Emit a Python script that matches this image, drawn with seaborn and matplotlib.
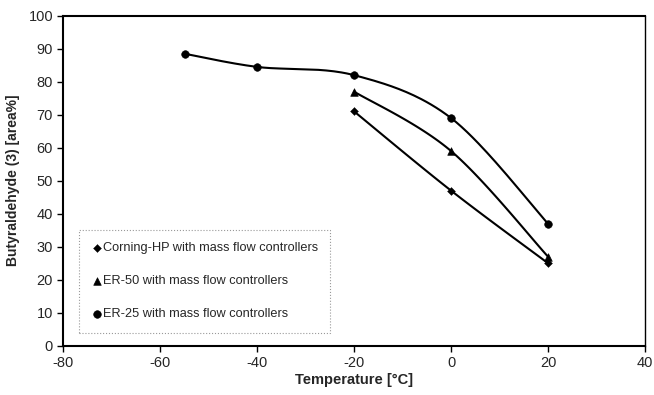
import numpy as np
import pandas as pd
import matplotlib
matplotlib.use('Agg')
import matplotlib.pyplot as plt
import seaborn as sns

# Data
temp_corning = [-20, 0, 20]
yield_corning = [71, 47, 25]
temp_er50 = [-20, 0, 20]
yield_er50 = [77, 59, 27]
temp_er25 = [-55, -40, -20, 0, 20]
yield_er25 = [88.5, 84.5, 82, 69, 37]

labels = ['Corning-HP with mass flow controllers',
          'ER-50 with mass flow controllers',
          'ER-25 with mass flow controllers']
markers = ['D', '^', 'o']
msizes = [16, 30, 30]


def smooth_curve(x, y, n=40):
    # Excel-like smoothed line (Catmull-Rom bezier)
    x = np.asarray(x, float)
    y = np.asarray(y, float)
    pts = np.column_stack([x, y])
    out = []
    for i in range(len(pts) - 1):
        p0 = pts[i - 1] if i > 0 else pts[i]
        p1 = pts[i]
        p2 = pts[i + 1]
        p3 = pts[i + 2] if i + 2 < len(pts) else pts[i + 1]
        c1 = p1 + (p2 - p0) / 6
        c2 = p2 - (p3 - p1) / 6
        t = np.linspace(0, 1, n)[:, None]
        seg = ((1 - t) ** 3) * p1 + 3 * ((1 - t) ** 2) * t * c1 \
            + 3 * (1 - t) * t ** 2 * c2 + t ** 3 * p2
        out.append(seg if i == 0 else seg[1:])
    seg = np.vstack(out)
    return pd.DataFrame({'x': seg[:, 0], 'y': seg[:, 1]})


sns.set_style('white')
plt.rcParams['font.family'] = ['Liberation Sans', 'DejaVu Sans']
plt.rcParams['axes.unicode_minus'] = False

fig, ax = plt.subplots(figsize=(6.54, 3.95), dpi=100)
fig.subplots_adjust(left=0.097, right=0.986, top=0.96, bottom=0.125)

series = [(temp_corning, yield_corning), (temp_er50, yield_er50),
          (temp_er25, yield_er25)]
for (tx, ty), lab, mk, ms in zip(series, labels, markers, msizes):
    curve = smooth_curve(tx, ty)
    sns.lineplot(data=curve, x='x', y='y', ax=ax, color='black',
                 linewidth=1.5, sort=False, estimator=None)
    pts = pd.DataFrame({'x': tx, 'y': ty})
    sns.scatterplot(data=pts, x='x', y='y', ax=ax, color='black',
                    marker=mk, s=ms, edgecolor='black', label=lab, zorder=5)

ax.set_xlim(-80, 40)
ax.set_ylim(0, 100)
ax.set_xticks(np.arange(-80, 41, 20))
ax.set_yticks(np.arange(0, 101, 10))
ax.tick_params(axis='both', direction='out', length=4, width=1,
               labelsize=10.5, color='black', bottom=True, left=True)
for side in ['left', 'bottom', 'top', 'right']:
    ax.spines[side].set_color('black')
ax.spines['left'].set_linewidth(1.5)
ax.spines['bottom'].set_linewidth(1.5)
ax.spines['top'].set_linewidth(1.5)
ax.spines['right'].set_linewidth(1.0)

ax.set_xlabel('Temperature [°C]', fontsize=10.5, fontweight='bold',
              labelpad=2)
ax.set_ylabel('Butyraldehyde (3) [area%]', fontsize=10, fontweight='bold',
              labelpad=6)

leg = ax.legend(loc='lower left', bbox_to_anchor=(0.021, 0.028),
                fontsize=9.2, frameon=True, fancybox=False,
                labelspacing=1.65, handletextpad=0.0, handlelength=0.9,
                borderpad=0.95, borderaxespad=0.3, edgecolor='gray')
leg.get_frame().set_linewidth(0.8)
leg.get_frame().set_linestyle(':')

fig.savefig('out.png', dpi=100)
